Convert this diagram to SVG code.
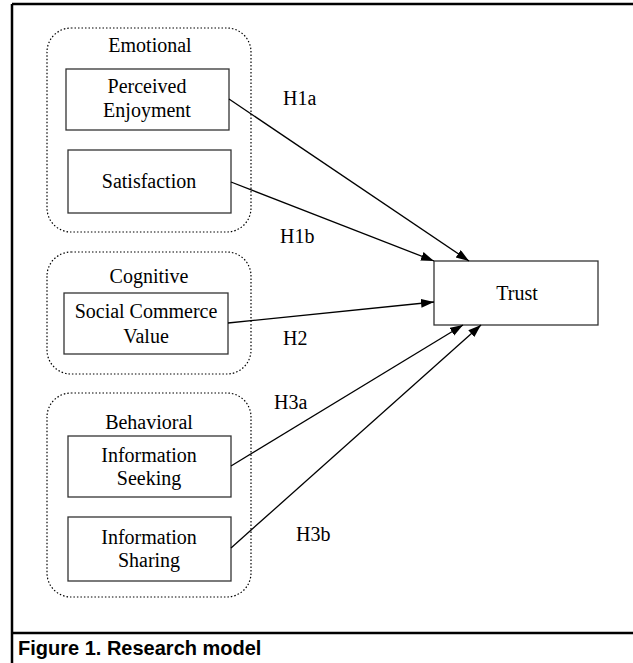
<svg xmlns="http://www.w3.org/2000/svg" width="633" height="663" viewBox="0 0 633 663">
<style>
  .frame { stroke: #000; stroke-width: 2.5; fill: none; }
  .group { fill: none; stroke: #000; stroke-width: 1.2; stroke-dasharray: 1.5 2; }
  .box { fill: #fff; stroke: #333; stroke-width: 1.3; }
  .t { font-family: "Liberation Serif", "Times New Roman", serif; font-size: 20px; fill: #000; text-anchor: middle; }
  .lbl { font-family: "Liberation Serif", "Times New Roman", serif; font-size: 20px; fill: #000; }
  .cap { font-family: "Liberation Sans", Arial, sans-serif; font-size: 20px; font-weight: bold; fill: #000; }
  .conn { stroke: #000; stroke-width: 1.3; fill: none; marker-end: url(#arr); }
</style>
<defs>
  <marker id="arr" markerUnits="userSpaceOnUse" markerWidth="14" markerHeight="10" refX="13" refY="4.5" orient="auto">
    <path d="M0,0 L13,4.5 L0,9 z" fill="#000"/>
  </marker>
</defs>
<rect x="0" y="0" width="633" height="663" fill="#fff"/>
<g id="frame">
  <line class="frame" x1="12" y1="4" x2="633" y2="4"/>
  <line class="frame" x1="12" y1="4" x2="12" y2="663"/>
  <line class="frame" x1="12" y1="633" x2="633" y2="633"/>
  <text class="cap" x="18" y="655">Figure 1. Research model</text>
</g>
<g id="emotional">
  <rect class="group" x="47" y="28" width="204" height="204" rx="24" ry="24"/>
  <text class="t" x="150" y="52">Emotional</text>
</g>
<g id="perceived-enjoyment">
  <rect class="box" x="66" y="69" width="163" height="61"/>
  <text class="t" x="147" y="93">Perceived</text>
  <text class="t" x="147" y="117">Enjoyment</text>
</g>
<g id="satisfaction">
  <rect class="box" x="68" y="150" width="163" height="63"/>
  <text class="t" x="149" y="188">Satisfaction</text>
</g>
<g id="cognitive">
  <rect class="group" x="47" y="252" width="204" height="122" rx="24" ry="24"/>
  <text class="t" x="149" y="283">Cognitive</text>
</g>
<g id="social-commerce-value">
  <rect class="box" x="64" y="293" width="164" height="61"/>
  <text class="t" x="146" y="318">Social Commerce</text>
  <text class="t" x="146" y="343">Value</text>
</g>
<g id="behavioral">
  <rect class="group" x="47" y="393" width="204" height="204" rx="24" ry="24"/>
  <text class="t" x="149" y="429">Behavioral</text>
</g>
<g id="information-seeking">
  <rect class="box" x="68" y="436" width="163" height="61"/>
  <text class="t" x="149" y="462">Information</text>
  <text class="t" x="149" y="485">Seeking</text>
</g>
<g id="information-sharing">
  <rect class="box" x="68" y="517" width="163" height="64"/>
  <text class="t" x="149" y="544">Information</text>
  <text class="t" x="149" y="567">Sharing</text>
</g>
<g id="trust">
  <rect class="box" x="434" y="261" width="164" height="64"/>
  <text class="t" x="517" y="300">Trust</text>
</g>
<g id="connectors">
  <line class="conn" x1="229" y1="99" x2="469" y2="261"/>
  <line class="conn" x1="231" y1="182" x2="434" y2="261"/>
  <line class="conn" x1="228" y1="323" x2="434" y2="302"/>
  <line class="conn" x1="231" y1="466" x2="463" y2="325"/>
  <line class="conn" x1="231" y1="548" x2="481" y2="325"/>
  <text class="lbl" x="283" y="105">H1a</text>
  <text class="lbl" x="280" y="243">H1b</text>
  <text class="lbl" x="283" y="345">H2</text>
  <text class="lbl" x="274" y="409">H3a</text>
  <text class="lbl" x="296" y="541">H3b</text>
</g>
</svg>
